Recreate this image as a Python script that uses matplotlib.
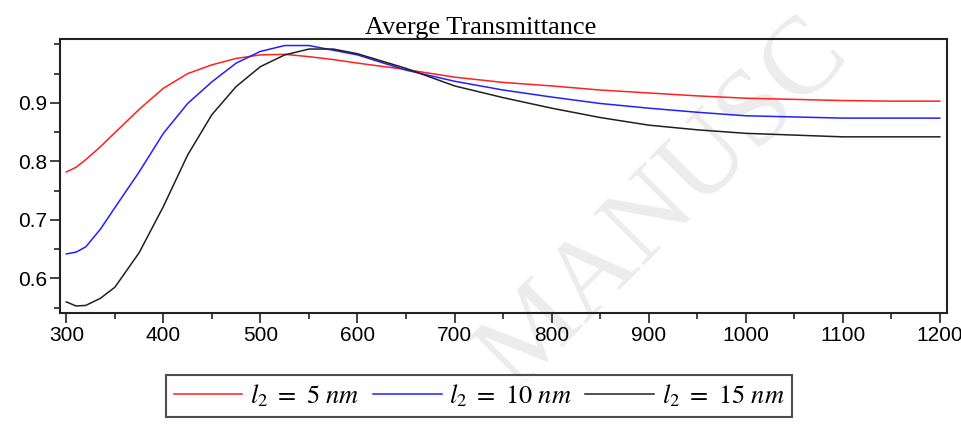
import matplotlib
matplotlib.use('Agg')
import matplotlib.pyplot as plt
from matplotlib.ticker import MultipleLocator

plt.rcParams['mathtext.fontset'] = 'stix'

# wavelength (nm)
wl = [300, 310, 320, 335, 350, 375, 400, 425, 450, 475, 500, 525, 550, 575, 600, 650,
      700, 750, 800, 850, 900, 950, 1000, 1050, 1100, 1150, 1200]

# average transmittance for the three thicknesses
t_5nm = [0.782, 0.790, 0.803, 0.825, 0.849, 0.889, 0.925, 0.950, 0.965, 0.976, 0.982, 0.983, 0.979,
         0.974, 0.968, 0.957, 0.944, 0.935, 0.929, 0.922, 0.917, 0.912, 0.908, 0.906, 0.904, 0.903, 0.903]
t_10nm = [0.642, 0.645, 0.654, 0.684, 0.721, 0.782, 0.848, 0.899, 0.936, 0.968, 0.988, 0.998, 0.998,
          0.990, 0.982, 0.956, 0.937, 0.922, 0.910, 0.899, 0.891, 0.884, 0.878, 0.876, 0.874, 0.874, 0.874]
t_15nm = [0.560, 0.553, 0.554, 0.566, 0.585, 0.644, 0.723, 0.811, 0.880, 0.928, 0.962, 0.982, 0.992,
          0.992, 0.984, 0.959, 0.929, 0.909, 0.891, 0.875, 0.862, 0.854, 0.848, 0.845, 0.842, 0.842, 0.842]

labels = [r'$l_2\ =\ 5\ nm$', r'$l_2\ =\ 10\ nm$', r'$l_2\ =\ 15\ nm$']

fig = plt.figure(figsize=(9.62, 4.25), dpi=100)
ax = fig.add_axes([0.0624, 0.2635, 0.9216, 0.6445])
ax.set_facecolor('none')

# faint watermark behind the plot
fig.text(0.69, 0.52, 'MANUSC', rotation=45, fontsize=80, color='#ececec',
         family='Liberation Serif', ha='center', va='center', zorder=-1)

ax.plot(wl, t_5nm, color='#ff2020', lw=1.1, label=labels[0])
ax.plot(wl, t_10nm, color='#2020ff', lw=1.1, label=labels[1])
ax.plot(wl, t_15nm, color='#202020', lw=1.1, label=labels[2])

ax.set_xlim(293.5, 1207)
ax.set_ylim(0.541, 1.009)
ax.xaxis.set_major_locator(MultipleLocator(100))
ax.xaxis.set_minor_locator(MultipleLocator(50))
ax.yaxis.set_minor_locator(MultipleLocator(0.05))
ax.set_yticks([0.6, 0.7, 0.8, 0.9])
ax.tick_params(which='major', length=7, width=1.2, labelsize=15, color='#222222', pad=2)
ax.tick_params(which='minor', length=4, width=1.2, color='#222222')
for lab in ax.get_xticklabels() + ax.get_yticklabels():
    lab.set_family('Liberation Sans')
for s in ax.spines.values():
    s.set_linewidth(1.5)
    s.set_color('#222222')

ax.set_title('Averge Transmittance', family='Liberation Serif', fontsize=19, pad=2, x=0.475)

leg = fig.legend(loc='upper center', bbox_to_anchor=(0.498, 0.1176), ncol=3, fontsize=19,
                 frameon=True, fancybox=False, edgecolor='#222222', handlelength=2.6,
                 handletextpad=0.3, columnspacing=0.5, borderpad=0.3, borderaxespad=0)
leg.get_frame().set_linewidth(1.5)

fig.savefig('out.png', dpi=100)
